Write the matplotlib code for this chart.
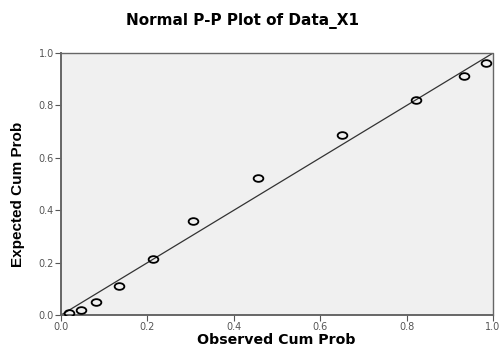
import matplotlib.pyplot as plt
from matplotlib.path import Path
from matplotlib.transforms import Affine2D

# observed vs expected cumulative probabilities
observed = [0.019, 0.046, 0.081, 0.134, 0.213, 0.306, 0.456, 0.650, 0.822, 0.932, 0.983]
expected = [0.008, 0.019, 0.050, 0.111, 0.214, 0.359, 0.523, 0.687, 0.821, 0.912, 0.963]
ticks = [0.0, 0.2, 0.4, 0.6, 0.8, 1.0]

plt.rcParams['font.family'] = ['DejaVu Sans']

fig = plt.figure(figsize=(5, 3.47), dpi=100)
ax = fig.add_axes([0.122, 0.092, 0.864, 0.755])
ax.set_facecolor('#f0f0f0')

# the source picture is a bit stretched sideways, so the circles look like ellipses
ellipse = Path.unit_circle().transformed(Affine2D().scale(1.45, 1.0))

ax.plot([0, 1], [0, 1], color='#333333', lw=0.9, zorder=2)
ax.plot(observed, expected, ls='none', marker=ellipse, mfc='none', mec='black',
        ms=7, mew=1.3, zorder=3)

ax.set_xlim(0, 1)
ax.set_ylim(0, 1)
ax.set_xticks(ticks)
ax.set_yticks(ticks)
ax.set_xticklabels([f'{t:.1f}' for t in ticks])
ax.set_yticklabels([f'{t:.1f}' for t in ticks])
ax.tick_params(direction='out', length=4, width=0.8, colors='#555555',
               labelsize=7, labelcolor='#555555', pad=1)
ax.spines['top'].set_visible(False)
ax.spines['right'].set_visible(False)
for s in ['left', 'bottom']:
    ax.spines[s].set_color('#666666')
    ax.spines[s].set_linewidth(1.4)
# thin frame on top/right
ax.plot([0, 1, 1], [1, 1, 0], color='#666666', lw=1.0, clip_on=False, zorder=4)

ax.set_ylabel('Expected Cum Prob', fontsize=11, fontweight='bold',
              family=['Liberation Sans Narrow', 'Liberation Sans', 'DejaVu Sans'])
ax.yaxis.set_label_coords(-0.084, 0.46)

fig.text(0.552, 0.0, 'Observed Cum Prob', ha='center', va='bottom',
         fontsize=10.2, fontweight='bold')
fig.text(0.484, 0.94, 'Normal P-P Plot of Data_X1', ha='center', va='center',
         fontsize=11, fontweight='bold')

fig.savefig('out.png', dpi=100)
